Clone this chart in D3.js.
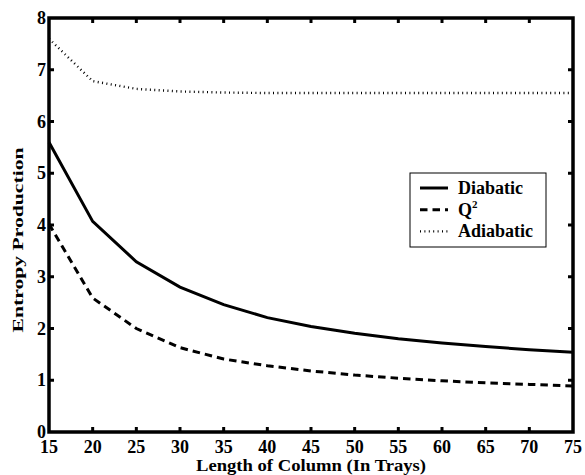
<!DOCTYPE html>
<html>
<head>
<meta charset="utf-8">
<script src="https://cdn.jsdelivr.net/npm/d3@7"></script>
<style>
  body { margin: 0; background: #fff; }
</style>
</head>
<body>
<script>
let width = 585, height = 475
const FONT = 'Liberation Serif'

// data
const trays = [15, 20, 25, 30, 35, 40, 45, 50, 55, 60, 65, 70, 75]
const diabatic = [5.6, 4.07, 3.29, 2.8, 2.46, 2.21, 2.04, 1.91, 1.8, 1.72, 1.65, 1.59, 1.54]
const q2 = [4.02, 2.59, 2.0, 1.63, 1.41, 1.28, 1.18, 1.1, 1.04, 0.99, 0.95, 0.92, 0.89]
const adiabatic = [7.6, 6.78, 6.63, 6.58, 6.56, 6.55, 6.55, 6.55, 6.55, 6.55, 6.55, 6.55, 6.55]
const xTicks = [15, 20, 25, 30, 35, 40, 45, 50, 55, 60, 65, 70, 75]
const yTicks = [0, 1, 2, 3, 4, 5, 6, 7, 8]

const series = [
  {name: 'Diabatic', values: diabatic, dash: null, w: 3},
  {name: 'Q2', values: q2, dash: '7.5,5', w: 3},
  {name: 'Adiabatic', values: adiabatic, dash: '1,3.4', w: 2.4}
]

let svg = d3.select('body').append('svg')
  .attr('width', width)
  .attr('height', height)

let plotLeft = 49, plotRight = 573, plotTop = 18, plotBottom = 432
let x = d3.scaleLinear().domain([15, 75]).range([plotLeft, plotRight])
let y = d3.scaleLinear().domain([0, 8]).range([plotBottom, plotTop])

// ticks inside on all sides
let tickLen = 5
let ticks = svg.append('g').attr('stroke', '#000').attr('stroke-width', 3)
xTicks.slice(1, -1).forEach(t => {
  ticks.append('line').attr('x1', x(t)).attr('x2', x(t)).attr('y1', plotBottom).attr('y2', plotBottom - tickLen)
  ticks.append('line').attr('x1', x(t)).attr('x2', x(t)).attr('y1', plotTop).attr('y2', plotTop + tickLen)
})
yTicks.slice(1, -1).forEach(t => {
  ticks.append('line').attr('x1', plotLeft).attr('x2', plotLeft + tickLen).attr('y1', y(t)).attr('y2', y(t))
  ticks.append('line').attr('x1', plotRight).attr('x2', plotRight - tickLen).attr('y1', y(t)).attr('y2', y(t))
})

// lines
let line = d3.line().x((d, i) => x(trays[i])).y(d => y(d))
series.forEach(s => {
  svg.append('path')
    .attr('d', line(s.values))
    .attr('fill', 'none')
    .attr('stroke', '#000')
    .attr('stroke-width', s.w)
    .attr('stroke-dasharray', s.dash)
})

// frame
svg.append('rect')
  .attr('x', plotLeft).attr('y', plotTop)
  .attr('width', plotRight - plotLeft).attr('height', plotBottom - plotTop)
  .attr('fill', 'none').attr('stroke', '#000').attr('stroke-width', 3.5)

// tick labels
svg.append('g').selectAll('text').data(xTicks).join('text')
  .attr('x', d => x(d)).attr('y', 453)
  .attr('text-anchor', 'middle')
  .attr('font-family', FONT).attr('font-weight', 'bold').attr('font-size', 18)
  .text(d => d)
svg.append('g').selectAll('text').data(yTicks).join('text')
  .attr('x', plotLeft - 3).attr('y', d => y(d) + 6)
  .attr('text-anchor', 'end')
  .attr('font-family', FONT).attr('font-weight', 'bold').attr('font-size', 18)
  .text(d => d)

// axis titles
svg.append('text')
  .attr('x', 311).attr('y', 471)
  .attr('text-anchor', 'middle')
  .attr('font-family', FONT).attr('font-weight', 'bold').attr('font-size', 16)
  .attr('textLength', 230).attr('lengthAdjust', 'spacingAndGlyphs')
  .text('Length of Column (In Trays)')
svg.append('text')
  .attr('transform', 'translate(23, 240) rotate(-90)')
  .attr('text-anchor', 'middle')
  .attr('font-family', FONT).attr('font-weight', 'bold').attr('font-size', 15)
  .attr('textLength', 185).attr('lengthAdjust', 'spacingAndGlyphs')
  .text('Entropy Production')

// legend
let legend = svg.append('g').attr('transform', 'translate(410, 173)')
legend.append('rect')
  .attr('width', 136).attr('height', 74)
  .attr('fill', '#fff').attr('stroke', '#000').attr('stroke-width', 1)
series.forEach((s, i) => {
  let ly = 15 + i * 21.7
  legend.append('line')
    .attr('x1', 10).attr('x2', 38).attr('y1', ly).attr('y2', ly)
    .attr('stroke', '#000').attr('stroke-width', s.w)
    .attr('stroke-dasharray', s.dash)
  let t = legend.append('text')
    .attr('x', 48).attr('y', ly + 6)
    .attr('font-family', FONT).attr('font-weight', 'bold').attr('font-size', 18)
  if (s.name === 'Q2') {
    t.text('Q')
    t.append('tspan').attr('dy', -8).attr('font-size', 11).text('2')
  } else {
    t.text(s.name)
  }
})
</script>
</body>
</html>
